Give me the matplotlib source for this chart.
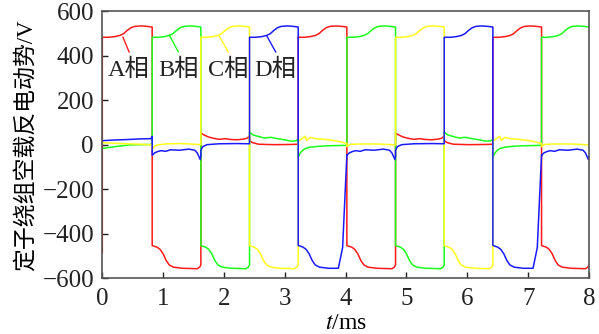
import matplotlib
matplotlib.use("Agg")
import matplotlib.pyplot as plt

plt.rcParams['font.family'] = ['Liberation Serif', 'Noto Sans CJK SC']
plt.rcParams['mathtext.fontset'] = 'stix'

# switching instants (ms)
switch_t = [0.0, 0.82, 1.62, 2.42, 3.22, 4.02, 4.82, 5.62, 6.42, 7.22, 8.0]

# waveform pieces: (time inside interval, volts)
shapes = {
    'pos': [(0, 484), (0.1, 484), (0.2, 487), (0.28, 492), (0.34, 500), (0.4, 515),
            (0.46, 527), (0.52, 533), (0.62, 535), (0.72, 533), (0.8, 530)],
    'a_first': [(0, -485), (0, 484), (0.1, 484), (0.2, 487), (0.28, 492), (0.34, 500),
                (0.4, 515), (0.46, 527), (0.52, 533), (0.62, 535), (0.72, 533), (0.8, 530)],
    'neg': [(0, -453), (0.08, -460), (0.13, -470), (0.18, -490), (0.23, -520),
            (0.28, -540), (0.35, -550), (0.5, -555), (0.74, -557), (0.78, -550), (0.8, -540)],
    'd_neg': [(0, -452), (0.08, -460), (0.13, -470), (0.18, -490), (0.23, -520),
              (0.28, -540), (0.35, -550), (0.5, -555), (0.66, -555), (0.73, -462), (0.8, -45)],
    'a_low1': [(0, 53), (0.05, 45), (0.12, 36), (0.2, 30), (0.3, 25), (0.4, 28), (0.5, 24),
               (0.6, 23), (0.7, 26), (0.76, 30), (0.8, 40)],
    'a_low2': [(0, 19), (0.05, 10), (0.15, 3), (0.4, 1), (0.7, 2), (0.8, 3)],
    'b_start': [(0, -16), (0.1, -12), (0.25, -6), (0.45, 0), (0.8, 2)],
    'b_low1': [(0, 58), (0.05, 46), (0.13, 39), (0.24, 31), (0.35, 34), (0.46, 28),
               (0.57, 23), (0.68, 17), (0.76, 18), (0.8, 25)],
    'b_low2': [(0, -55), (0.03, -38), (0.07, -25), (0.12, -16), (0.2, -10), (0.35, -6),
               (0.5, -4), (0.8, -2)],
    'c_start0': [(0, 10), (0.3, 6), (0.6, 3), (0.8, 0)],
    'c_start1': [(0, -20), (0.03, -8), (0.08, 0), (0.25, 5), (0.5, 6), (0.8, 1)],
    'c_low1': [(0, 16), (0.06, 28), (0.11, 39), (0.14, 20), (0.2, 34), (0.28, 28),
               (0.5, 23), (0.66, 16), (0.75, 10), (0.8, 5)],
    'c_low2': [(0, -8), (0.05, 2), (0.2, 4), (0.5, 4), (0.8, 0)],
    'd_start0': [(0, 19), (0.2, 22), (0.4, 24), (0.6, 27), (0.78, 28), (0.8, 38)],
    'd_low1': [(0, -47), (0.04, -36), (0.1, -29), (0.15, -26), (0.22, -29), (0.3, -22),
               (0.45, -24), (0.6, -19), (0.7, -24), (0.74, -36), (0.79, -66), (0.8, -50)],
    'd_low2': [(0, -25), (0.03, -8), (0.1, 1), (0.3, 5), (0.6, 6), (0.8, 5)],
}

phase_a = ['a_first', 'neg', 'a_low1', 'a_low2', 'pos', 'neg', 'a_low1', 'a_low2', 'pos', 'neg']
phase_b = ['b_start', 'pos', 'neg', 'b_low1', 'b_low2', 'pos', 'neg', 'b_low1', 'b_low2', 'pos']
phase_c = ['c_start0', 'c_start1', 'pos', 'neg', 'c_low1', 'c_low2', 'pos', 'neg', 'c_low1', 'c_low2']
phase_d = ['d_start0', 'd_low1', 'd_low2', 'pos', 'd_neg', 'd_low1', 'd_low2', 'pos', 'd_neg', 'd_low1']

colors = ['#ff1a1a', '#1aff1a', '#ffff1a', '#1a1aff']
labels = ['A相', 'B相', 'C相', 'D相']
# leader line (start t, start v, end t, end v) and label position
leaders = [(0.34, 484, 0.44, 418), (1.1, 494, 1.25, 418), (1.92, 490, 2.07, 418), (2.71, 487, 2.85, 418)]
label_pos = [(0.43, 337), (1.25, 337), (2.07, 337), (2.85, 337)]


def build(seq):
    ts, vs = [], []
    for k, name in enumerate(seq):
        t0, t1 = switch_t[k], switch_t[k + 1]
        for rt, v in shapes[name]:
            ts.append(t0 + rt * (t1 - t0) / 0.8)
            vs.append(v)
    return ts, vs


fig = plt.figure(figsize=(5.99, 3.34), dpi=100)
ax = fig.add_axes([0.1708, 0.1668, 0.8125, 0.7988])

for seq, c in zip([phase_a, phase_b, phase_c, phase_d], colors):
    t, v = build(seq)
    ax.plot(t, v, color=c, lw=1.1)

for (x0, y0, x1, y1), (lx, ly), c, lab in zip(leaders, label_pos, colors, labels):
    ax.plot([x0, x1], [y0, y1], color=c, lw=1.0)
    ax.text(lx, ly, lab, ha='center', va='center', fontsize=17.5, color='#222222')

ax.set_xlim(0, 8)
ax.set_ylim(-600, 600)
ax.set_xticks(range(0, 9))
ax.set_yticks(range(-600, 601, 200))
ax.tick_params(direction='in', length=4, width=1, labelsize=18, colors='#222222', pad=6)
ax.tick_params(axis='x', pad=7)
for s in ax.spines.values():
    s.set_color('#555555')
    s.set_linewidth(1.2)
ax.set_xlabel('$t$/ms', fontsize=17, labelpad=2)
ax.set_ylabel('定子绕组空载反电动势/V', fontsize=16.5, labelpad=4)

fig.savefig('out.png', dpi=100)
